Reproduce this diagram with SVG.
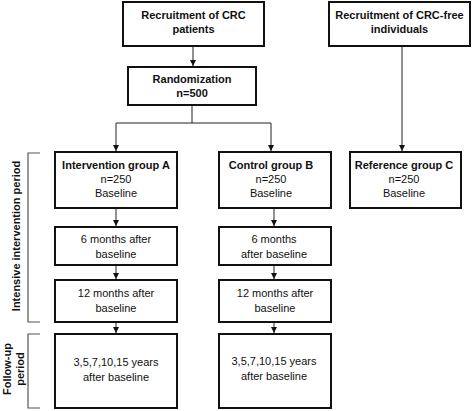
<svg xmlns="http://www.w3.org/2000/svg" width="472" height="411" viewBox="0 0 472 411">
  <style>
    .box { fill: #fff; stroke: #111; stroke-width: 2; }
    text { font-family: "Liberation Sans", Arial, sans-serif; font-size: 11px; fill: #111; text-anchor: middle; }
    .b { font-weight: bold; }
    .conn { fill: none; stroke: #222; stroke-width: 1; }
    .brk { fill: none; stroke: #555; stroke-width: 1.2; }
  </style>
  <defs>
    <marker id="arr" viewBox="0 0 10 10" refX="10" refY="5" markerWidth="6" markerHeight="6" markerUnits="userSpaceOnUse" orient="auto">
      <path d="M0,0 L10,5 L0,10 z" fill="#111"/>
    </marker>
  </defs>
  <rect width="472" height="411" fill="#fff"/>

  <g id="connectors">
    <line class="conn" x1="193" y1="46" x2="193" y2="66" marker-end="url(#arr)"/>
    <polyline class="conn" points="192,105 192,123"/>
    <polyline class="conn" points="116,123 271,123"/>
    <line class="conn" x1="116" y1="123" x2="116" y2="151" marker-end="url(#arr)"/>
    <line class="conn" x1="271" y1="123" x2="271" y2="151" marker-end="url(#arr)"/>
    <line class="conn" x1="402" y1="46" x2="402" y2="151" marker-end="url(#arr)"/>
    <line class="conn" x1="116" y1="208" x2="116" y2="226" marker-end="url(#arr)"/>
    <line class="conn" x1="116" y1="265" x2="116" y2="279" marker-end="url(#arr)"/>
    <line class="conn" x1="116" y1="322" x2="116" y2="333" marker-end="url(#arr)"/>
    <line class="conn" x1="274" y1="208" x2="274" y2="226" marker-end="url(#arr)"/>
    <line class="conn" x1="274" y1="265" x2="274" y2="279" marker-end="url(#arr)"/>
    <line class="conn" x1="274" y1="322" x2="274" y2="333" marker-end="url(#arr)"/>
  </g>

  <g id="recruit-crc">
    <rect class="box" x="123" y="2" width="141" height="44"/>
    <text class="b" x="193.5" y="19">Recruitment of CRC</text>
    <text class="b" x="193.5" y="33">patients</text>
  </g>
  <g id="recruit-free">
    <rect class="box" x="329" y="2" width="141" height="44"/>
    <text class="b" x="399.5" y="19">Recruitment of CRC-free</text>
    <text class="b" x="399.5" y="33">individuals</text>
  </g>
  <g id="randomization">
    <rect class="box" x="128" y="67" width="128" height="38"/>
    <text class="b" x="192" y="83">Randomization</text>
    <text class="b" x="192" y="97">n=500</text>
  </g>
  <g id="group-a">
    <rect class="box" x="55" y="152" width="122" height="56"/>
    <text class="b" x="116" y="169">Intervention group A</text>
    <text x="116" y="183">n=250</text>
    <text x="116" y="197">Baseline</text>
  </g>
  <g id="group-b">
    <rect class="box" x="219" y="152" width="112" height="56"/>
    <text class="b" x="271" y="169">Control group B</text>
    <text x="271" y="183">n=250</text>
    <text x="271" y="197">Baseline</text>
  </g>
  <g id="group-c">
    <rect class="box" x="350" y="152" width="111" height="56"/>
    <text class="b" x="404" y="169">Reference group C</text>
    <text x="404" y="183">n=250</text>
    <text x="404" y="197">Baseline</text>
  </g>
  <g id="a-6m">
    <rect class="box" x="55" y="227" width="122" height="38"/>
    <text x="116" y="243">6 months after</text>
    <text x="116" y="258">baseline</text>
  </g>
  <g id="b-6m">
    <rect class="box" x="219" y="227" width="112" height="38"/>
    <text x="274" y="243">6 months</text>
    <text x="274" y="258">after baseline</text>
  </g>
  <g id="a-12m">
    <rect class="box" x="55" y="280" width="122" height="42"/>
    <text x="116" y="297">12 months after</text>
    <text x="116" y="312">baseline</text>
  </g>
  <g id="b-12m">
    <rect class="box" x="219" y="280" width="112" height="42"/>
    <text x="275" y="297">12 months after</text>
    <text x="275" y="312">baseline</text>
  </g>
  <g id="a-fu">
    <rect class="box" x="55" y="334" width="122" height="74"/>
    <text x="116" y="366">3,5,7,10,15 years</text>
    <text x="116" y="381">after baseline</text>
  </g>
  <g id="b-fu">
    <rect class="box" x="219" y="334" width="112" height="74"/>
    <text x="274" y="365">3,5,7,10,15 years</text>
    <text x="274" y="380">after baseline</text>
  </g>

  <g id="period-intensive">
    <polyline class="brk" points="40,153 28,153 28,322 40,322"/>
    <text class="b" transform="translate(20,236) rotate(-90)">Intensive intervention period</text>
  </g>
  <g id="period-followup">
    <polyline class="brk" points="40,334 28,334 28,408 40,408"/>
    <text class="b" transform="translate(11,369) rotate(-90)">Follow-up</text>
    <text class="b" transform="translate(24,369) rotate(-90)">period</text>
  </g>
</svg>
